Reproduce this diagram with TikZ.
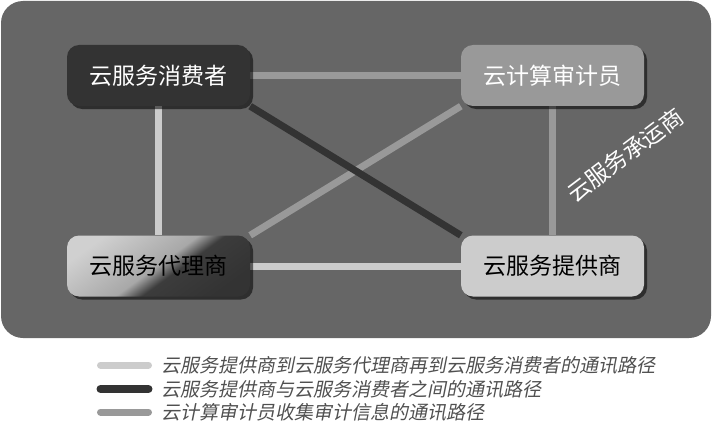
\documentclass[tikz,border=0pt]{standalone}
\usepackage{fontspec}
\setmainfont{Noto Sans CJK SC}
\newfontfamily\legenda[FakeSlant=0.2]{Noto Sans CJK SC}
\usepackage{tikz}
\usetikzlibrary{shadows}
\usepackage{xcolor}

\definecolor{cinzafundo}{HTML}{666666}
\definecolor{escuro}{HTML}{333333}
\definecolor{medio}{HTML}{999999}
\definecolor{claro}{HTML}{CCCCCC}
\definecolor{textolegenda}{HTML}{505050}
\definecolor{cinzaA}{HTML}{D0D0D0}
\definecolor{cinzaB}{HTML}{A8A8A8}
\definecolor{cinzaC}{HTML}{3C3C3C}

\pgfdeclarehorizontalshading{degrade}{100bp}{color(0bp)=(cinzaA); color(25bp)=(cinzaA);
  color(49.5bp)=(cinzaB); color(56.5bp)=(cinzaC); color(75bp)=(escuro); color(100bp)=(escuro)}

\pgfdeclarelayer{camadafundo}
\pgfdeclarelayer{camadalinhas}
\pgfsetlayers{camadafundo,camadalinhas,main}

\tikzset{
  caixa/.style={rounded corners=12pt, minimum width=183pt, minimum height=61pt,
    inner sep=0pt, font=\fontsize{23}{23}\selectfont,
    drop shadow={shadow xshift=3pt, shadow yshift=-3pt, opacity=0.55, fill=black}},
  ligacao/.style={line width=7pt},
  amostra/.style={line width=7pt, line cap=round},
  textoleg/.style={anchor=west, inner sep=0pt, text=textolegenda,
    font=\legenda\fontsize{19}{19}\selectfont},
}

\begin{document}
\begin{tikzpicture}[x=1pt,y=1pt]

\useasboundingbox (0,0) rectangle (712,424);

% fundo arredondado
\begin{pgfonlayer}{camadafundo}
\fill[cinzafundo, rounded corners=22pt] (1,86) rectangle (711,423);
\end{pgfonlayer}

% as quatro caixas
\node[caixa, fill=escuro, text=white] (cons) at (158.5,348.5) {云服务消费者};
\node[caixa, fill=medio, text=white] (aud) at (552.5,348.5) {云计算审计员};
\node[caixa, shading=degrade, shading angle=-54, text=black] (brk) at (158.5,158) {云服务代理商};
\node[caixa, fill=claro, text=black] (prov) at (552.5,158) {云服务提供商};

% caminhos de comunicacao
\begin{pgfonlayer}{camadalinhas}
\draw[ligacao, claro] (cons.south) -- (brk.north);
\draw[ligacao, claro] (brk.east) -- (prov.west);
\draw[ligacao, medio] (cons.east) -- (aud.west);
\draw[ligacao, medio] (aud.south) -- (prov.north);
\draw[ligacao, medio] (brk.north east) -- (aud.south west);
\draw[ligacao, escuro] (cons.south east) -- (prov.north west);
\end{pgfonlayer}

% rotulo inclinado
\node[rotate=37, text=white, font=\fontsize{23}{23}\selectfont] (carrier) at (625,269) {云服务承运商};

% legenda
\node[textoleg] (leg1) at (161,59) {云服务提供商到云服务代理商再到云服务消费者的通讯路径};
\node[textoleg] (leg2) at (161,35) {云服务提供商与云服务消费者之间的通讯路径};
\node[textoleg] (leg3) at (161,12) {云计算审计员收集审计信息的通讯路径};
\draw[amostra, claro] (100.5,59) -- (148.5,59);
\draw[amostra, escuro, line width=8pt] (100.5,35) -- (148.5,35);
\draw[amostra, medio] (100.5,12) -- (148.5,12);

\end{tikzpicture}
\end{document}
